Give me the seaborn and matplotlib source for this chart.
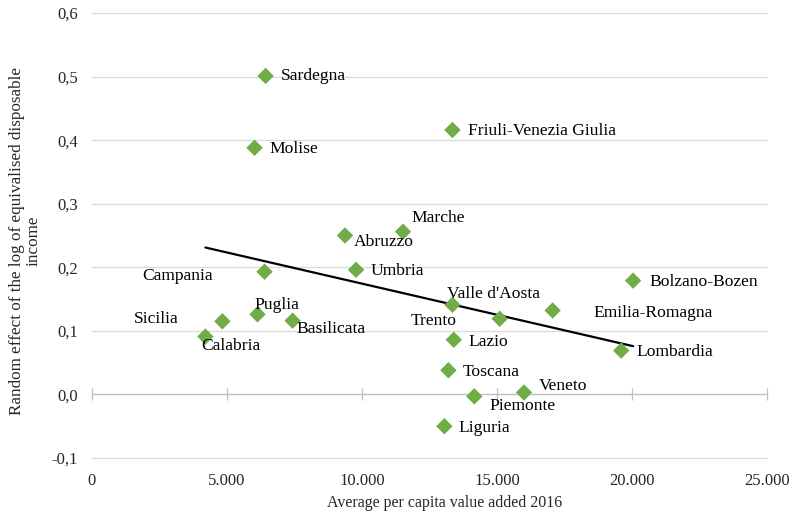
import numpy as np
import pandas as pd
import matplotlib
matplotlib.use('Agg')
import matplotlib.pyplot as plt
import seaborn as sns

# data
regions = ['Sardegna', 'Molise', 'Friuli-Venezia Giulia', 'Marche', 'Abruzzo', 'Umbria',
           'Campania', 'Puglia', 'Sicilia', 'Calabria', 'Basilicata', "Valle d'Aosta",
           'Trento', 'Lazio', 'Toscana', 'Veneto', 'Piemonte', 'Liguria',
           'Emilia-Romagna', 'Bolzano-Bozen', 'Lombardia']
value_added = [6430, 6020, 13350, 11520, 9370, 9780,
               6390, 6130, 4830, 4200, 7430, 13350,
               15100, 13400, 13200, 16000, 14160, 13050,
               17060, 20040, 19600]
random_effect = [0.501, 0.388, 0.416, 0.256, 0.250, 0.196,
                 0.193, 0.126, 0.115, 0.091, 0.116, 0.141,
                 0.119, 0.086, 0.038, 0.003, -0.003, -0.050,
                 0.132, 0.179, 0.069]

x_ticks = [0, 5000, 10000, 15000, 20000, 25000]
x_tick_labels = ['0', '5.000', '10.000', '15.000', '20.000', '25.000']
y_ticks = [-0.1, 0.0, 0.1, 0.2, 0.3, 0.4, 0.5, 0.6]
y_tick_labels = ['-0,1', '0,0', '0,1', '0,2', '0,3', '0,4', '0,5', '0,6']

# label placement (offset in pixels, horizontal alignment)
label_pos = {
    'Sardegna': (15, 0, 'left'), 'Molise': (15, -1, 'left'),
    'Friuli-Venezia Giulia': (16, -1, 'left'), 'Marche': (8, 14, 'left'),
    'Abruzzo': (9, -6, 'left'), 'Umbria': (15, -1, 'left'),
    'Campania': (-52, -4, 'right'), 'Puglia': (-3, 9, 'left'),
    'Sicilia': (-44, 2, 'right'), 'Calabria': (-4, -9, 'left'),
    'Basilicata': (4, -8, 'left'), "Valle d'Aosta": (-5, 11, 'left'),
    'Trento': (-43, -2, 'right'), 'Lazio': (15, -2, 'left'),
    'Toscana': (14, -2, 'left'), 'Veneto': (15, 7, 'left'),
    'Piemonte': (15, -10, 'left'), 'Liguria': (14, -2, 'left'),
    'Emilia-Romagna': (41, -2, 'left'), 'Bolzano-Bozen': (16, -1, 'left'),
    'Lombardia': (15, -1, 'left'),
}

df = pd.DataFrame({'region': regions, 'x': value_added, 'y': random_effect})

sns.set_style('white')
plt.rcParams['font.family'] = ['Liberation Serif', 'DejaVu Serif']

fig = plt.figure(figsize=(7.92, 5.15), dpi=100)
ax = fig.add_axes([92 / 792, 1 - 458 / 515, (767 - 92) / 792, (458 - 13) / 515])

ymin, ymax = -0.1, 0.6
ax.set_xlim(0, 25000)
ax.set_ylim(ymin, ymax)

for yt in y_ticks:
    if yt != 0.0:
        ax.axhline(yt, color='#D9D9D9', lw=0.9, zorder=0, clip_on=False)

# linear trend line over the data range
slope, intercept = np.polyfit(df['x'], df['y'], 1)
xs = np.array([df['x'].min(), df['x'].max()])
ax.plot(xs, slope * xs + intercept, color='black', lw=1.6, zorder=2)

sns.scatterplot(data=df, x='x', y='y', ax=ax, marker='D', s=70, color='#70AD47',
                edgecolor='none', zorder=3)

for _, row in df.iterrows():
    dx, dy, ha = label_pos[row['region']]
    ax.annotate(row['region'], (row['x'], row['y']), xytext=(dx, dy),
                textcoords='offset pixels', ha=ha, va='center', fontsize=12.6, color='black')

for s in ax.spines.values():
    s.set_visible(False)

ax.set_xticks(x_ticks)
ax.set_xticklabels(x_tick_labels)
ax.set_yticks(y_ticks)
ax.set_yticklabels(y_tick_labels)
ax.tick_params(axis='both', length=0, labelsize=12, colors='#262626')
ax.tick_params(axis='x', pad=11)
ax.tick_params(axis='y', pad=10)

# horizontal axis line at zero with crossing ticks
zero_ax = ax.secondary_xaxis((0 - ymin) / (ymax - ymin))
zero_ax.set_xticks(x_ticks)
zero_ax.tick_params(direction='inout', length=8, width=0.9, color='#BFBFBF', labelbottom=False)
zero_ax.spines['bottom'].set_color('#BFBFBF')
zero_ax.spines['bottom'].set_linewidth(1.0)

ax.set_xlabel('Average per capita value added 2016', fontsize=11.5, color='#262626')
ax.set_ylabel('Random effect of the log of equivalised disposable\nincome', fontsize=12.3,
              linespacing=1.1, color='#262626')
ax.xaxis.set_label_coords(0.523, -0.083)
ax.yaxis.set_label_coords(-0.074, 0.4876)

fig.savefig('out.png', dpi=100)
